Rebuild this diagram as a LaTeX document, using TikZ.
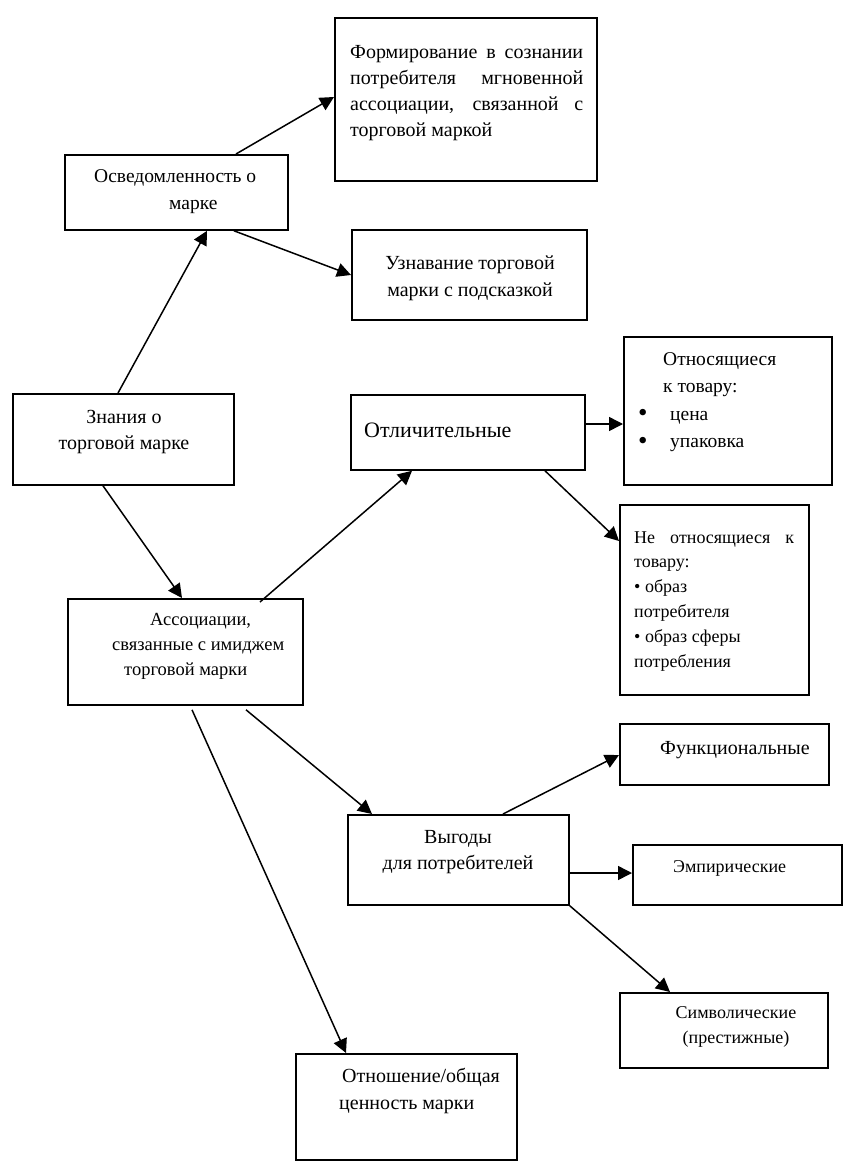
\documentclass[tikz,border=0pt]{standalone}
\usepackage{fontspec}
\setmainfont{Liberation Serif}
\usetikzlibrary{arrows.meta}
\newcommand{\bigbul}{\raisebox{-1.5pt}{\fontsize{27}{27}\selectfont •}}
\begin{document}
\begin{tikzpicture}[x=1pt,y=-1pt,
  box/.style={draw, line width=1.8pt, rectangle, anchor=north west, inner sep=0pt},
  txt/.style={inner sep=0pt, anchor=north west, align=left},
  arr/.style={line width=1.5pt, -{Triangle[length=14pt,width=14pt]}}]
\useasboundingbox (0,0) rectangle (847,1172);
\fill[white] (0,0) rectangle (847,1172);
% boxes
\node[box, minimum width=262pt, minimum height=163pt] (form) at (334,17) {};
\node[box, minimum width=223pt, minimum height=75pt] (osv) at (64,154) {};
\node[box, minimum width=235pt, minimum height=90pt] (uzn) at (351,229) {};
\node[box, minimum width=221pt, minimum height=91pt] (zn) at (12,393) {};
\node[box, minimum width=234pt, minimum height=75pt] (otl) at (350,394) {};
\node[box, minimum width=208pt, minimum height=148pt] (otn) at (623,336) {};
\node[box, minimum width=189pt, minimum height=190pt] (neotn) at (619,504) {};
\node[box, minimum width=235pt, minimum height=106pt] (assoc) at (67,598) {};
\node[box, minimum width=209pt, minimum height=61pt] (func) at (619,723) {};
\node[box, minimum width=221pt, minimum height=90pt] (vyg) at (347,814) {};
\node[box, minimum width=209pt, minimum height=60pt] (emp) at (632,844) {};
\node[box, minimum width=208pt, minimum height=75pt] (simv) at (619,992) {};
\node[box, minimum width=221pt, minimum height=106pt] (otnosh) at (295,1053) {};
% texts
\node[txt, font=\fontsize{20}{26}\selectfont] (formt) at (350,39.8)
 {\strut\makebox[233pt][s]{Формирование в сознании}\\
  \makebox[233pt][s]{потребителя мгновенной}\\
  \makebox[233pt][s]{ассоциации, связанной с}\\
  торговой маркой};
\node[txt, font=\fontsize{19.5}{27}\selectfont] (osvt) at (94,163.1)
 {\strut Осведомленность о\\ \hspace*{75pt}марке};
\node[txt, anchor=north, align=center, font=\fontsize{20}{27}\selectfont] (uznt) at (470,250.1)
 {\strut Узнавание торговой\\ марки с подсказкой};
\node[txt, anchor=north, align=center, font=\fontsize{20}{26}\selectfont] (znt) at (124,404.8)
 {\strut Знания о\\ торговой марке};
\node[inner sep=0pt, anchor=base west, font=\fontsize{22}{26}\selectfont] (otlt) at (364,437) {Отличительные};
\node[txt, font=\fontsize{19.5}{27.5}\selectfont] (otnt) at (638,345.75)
 {\strut\hspace*{25pt}Относящиеся\\
  \hspace*{25pt}к товару:\\
  \makebox[32pt][l]{\bigbul}цена\\
  \makebox[32pt][l]{\bigbul}упаковка};
\node[txt, font=\fontsize{18}{24.8}\selectfont] (neotnt) at (634,525.6)
 {\strut\makebox[160pt][s]{Не относящиеся к}\\
  товару:\\
  • образ\\
  потребителя\\
  • образ сферы\\
  потребления};
\node[txt, font=\fontsize{18.5}{25}\selectfont] (assoct) at (112,607.5)
 {\strut\hspace*{38pt}Ассоциации,\\
  связанные с имиджем\\
  \hspace*{12pt}торговой марки};
\node[inner sep=0pt, anchor=base west, font=\fontsize{20}{26}\selectfont] (funct) at (660,754) {Функциональные};
\node[txt, anchor=north, align=center, font=\fontsize{20}{26}\selectfont] (vygt) at (458,824.8)
 {\strut Выгоды\\ для потребителей};
\node[inner sep=0pt, anchor=base west, font=\fontsize{18}{25}\selectfont] (empt) at (673,872) {Эмпирические};
\node[txt, anchor=north, align=center, font=\fontsize{18}{25}\selectfont] (simvt) at (736,1000.5)
 {\strut Символические\\ (престижные)};
\node[txt, font=\fontsize{20}{27}\selectfont] (otnosht) at (339,1063.1)
 {\strut\hspace*{3pt}Отношение/общая\\ ценность марки};
% connectors
\draw[arr] ([xshift=172pt]osv.north west) -- ([yshift=-80pt]form.north west);
\draw[arr] ([xshift=170pt]osv.south west) -- ([yshift=-46pt]uzn.north west);
\draw[arr] ([xshift=106pt]zn.north west) -- ([xshift=143pt]osv.south west);
\draw[arr] ([xshift=91pt]zn.south west) -- ([xshift=115pt]assoc.north west);
\draw[arr] ([xshift=193pt,yshift=-4pt]assoc.north west) -- ([xshift=62pt]otl.south west);
\draw[arr] ([yshift=-30pt]otl.north east) -- ([yshift=-88pt]otn.north west);
\draw[arr] ([xshift=195pt]otl.south west) -- ([yshift=-37pt]neotn.north west);
\draw[arr] ([xshift=125pt,yshift=-4pt]assoc.south west) -- ([xshift=51pt]otnosh.north west);
\draw[arr] ([xshift=179pt,yshift=-4pt]assoc.south west) -- ([xshift=25pt]vyg.north west);
\draw[arr] ([xshift=156pt]vyg.north west) -- ([yshift=-32pt]func.north west);
\draw[arr] ([yshift=-59pt]vyg.north east) -- ([yshift=-29pt]emp.north west);
\draw[arr] (vyg.south east) -- ([xshift=51pt]simv.north west);
\end{tikzpicture}
\end{document}
